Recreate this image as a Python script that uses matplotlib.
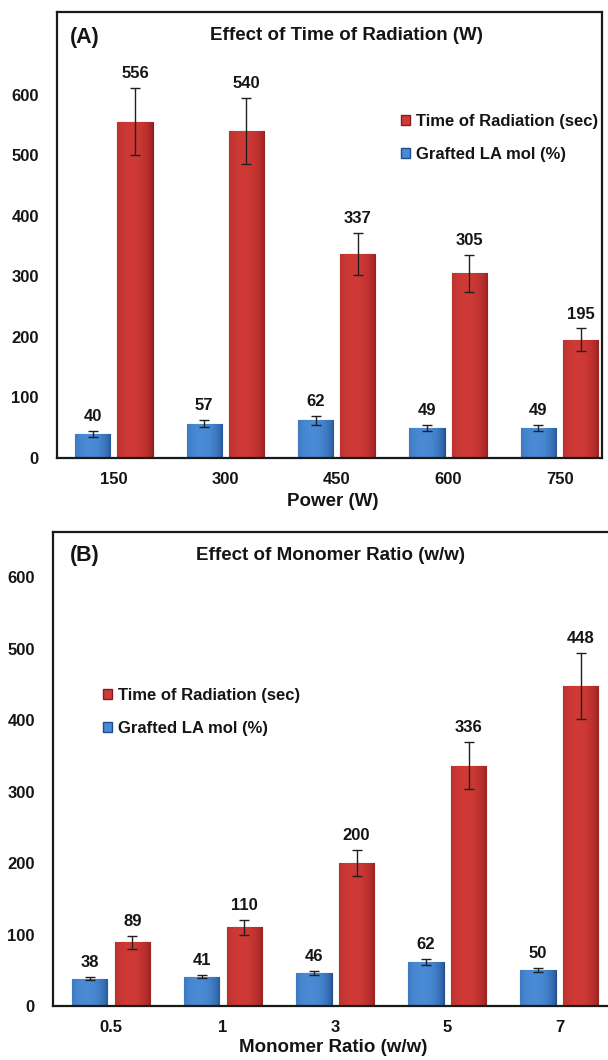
import numpy as np
import matplotlib
matplotlib.use('Agg')
import matplotlib.pyplot as plt
from matplotlib.patches import Patch
from matplotlib.colors import to_rgb

plt.rcParams['font.family'] = ['Liberation Sans', 'DejaVu Sans']
plt.rcParams['font.weight'] = 'bold'

# ---------------- data ----------------
power_labels = ['150', '300', '450', '600', '750']
time_a = [556, 540, 337, 305, 195]
time_a_err = [56, 55, 35, 31, 19]
graft_a = [40, 57, 62, 49, 49]
graft_a_err = [5, 6, 7, 5, 5]

ratio_labels = ['0.5', '1', '3', '5', '7']
time_b = [89, 110, 200, 336, 448]
time_b_err = [9, 10, 18, 33, 46]
graft_b = [38, 41, 46, 62, 50]
graft_b_err = [2, 2, 3, 4, 3]

y_ticks = [0, 100, 200, 300, 400, 500, 600]
series_names = ['Time of Radiation (sec)', 'Grafted LA mol (%)']

RED, RED_D = '#CF3A36', '#8A1B1B'
BLUE, BLUE_D = '#4A8BD6', '#1F4C8C'
TXT = '#151515'

W, H = 608, 1060
fig = plt.figure(figsize=(W / 100, H / 100), dpi=100)


def fx(x):
    return x / W


def fy(y):
    return 1 - y / H


def shade(ax, bars, color, dark):
    c = np.array(to_rgb(color))
    d = np.array(to_rgb(dark))
    t = np.linspace(0, 1, 64)
    prof = np.clip(1 - ((t - 0.4) / 0.62) ** 2, 0, 1) ** 0.6
    row = d[None, :] * (1 - prof[:, None]) + c[None, :] * prof[:, None]
    img = np.tile(row[None, :, :], (2, 1, 1))
    for p in bars:
        x0, y0 = p.get_x(), p.get_y()
        w, h = p.get_width(), p.get_height()
        im = ax.imshow(img, extent=(x0, x0 + w, y0, y0 + h), aspect='auto',
                       origin='lower', zorder=p.get_zorder() + 0.1,
                       interpolation='bilinear')
        im.set_clip_path(p)


def panel(rect, labels, t_vals, t_err, g_vals, g_err, xlim, ylim, right_spine):
    ax = fig.add_axes(rect)
    x = np.arange(len(labels))
    bw, off = 0.315, 0.19
    bg = ax.bar(x - off, g_vals, bw, color=BLUE, edgecolor=BLUE_D, linewidth=0.8, zorder=2)
    bt = ax.bar(x + off, t_vals, bw, color=RED, edgecolor=RED_D, linewidth=0.8, zorder=2)
    shade(ax, bg, BLUE, BLUE_D)
    shade(ax, bt, RED, RED_D)
    ax.errorbar(x - off, g_vals, yerr=g_err, fmt='none', ecolor='#202020',
                elinewidth=1.0, capsize=3.5, capthick=1.0, zorder=4)
    ax.errorbar(x + off, t_vals, yerr=t_err, fmt='none', ecolor='#202020',
                elinewidth=1.0, capsize=3.5, capthick=1.0, zorder=4)
    for xi, v, e in zip(x - off, g_vals, g_err):
        ax.annotate(str(v), (xi, v + e), xytext=(0, 5), textcoords='offset points',
                    ha='center', va='bottom', fontsize=12, color=TXT)
    for xi, v, e in zip(x + off, t_vals, t_err):
        ax.annotate(str(v), (xi, v + e), xytext=(0, 5), textcoords='offset points',
                    ha='center', va='bottom', fontsize=12, color=TXT)
    ax.set_xlim(*xlim)
    ax.set_ylim(*ylim)
    ax.set_xticks(x)
    ax.set_xticklabels(labels)
    ax.set_yticks(y_ticks)
    ax.tick_params(length=0, labelsize=12, labelcolor=TXT)
    ax.tick_params(axis='y', pad=13)
    ax.tick_params(axis='x', pad=10)
    for s in ['left', 'top', 'bottom', 'right']:
        ax.spines[s].set_color('#1a1a1a')
        ax.spines[s].set_linewidth(1.6)
    ax.spines['right'].set_visible(right_spine)
    return ax


# Panel A
axA = panel([fx(57), fy(458), fx(602 - 57), (458 - 12) / H], power_labels,
            time_a, time_a_err, graft_a, graft_a_err,
            (-0.51, 4.38), (0, 737), True)
# Panel B
axB = panel([fx(53), fy(1006), fx(620 - 53), (1006 - 532) / H], ratio_labels,
            time_b, time_b_err, graft_b, graft_b_err,
            (-0.517, 4.54), (0, 663), False)

fig.text(fx(70), fy(38), '(A)', fontsize=15.5, ha='left', va='center', color=TXT)
fig.text(fx(346), fy(35), 'Effect of Time of Radiation (W)', fontsize=13.5,
         ha='center', va='center', color=TXT)
fig.text(fx(70), fy(556), '(B)', fontsize=15.5, ha='left', va='center', color=TXT)
fig.text(fx(331), fy(555), 'Effect of Monomer Ratio (w/w)', fontsize=13.5,
         ha='center', va='center', color=TXT)
fig.text(fx(333), fy(502), 'Power (W)', fontsize=13.5, ha='center', va='center', color=TXT)
fig.text(fx(333), fy(1047), 'Monomer Ratio (w/w)', fontsize=13.5, ha='center', va='center',
         color=TXT)

handles = [Patch(facecolor=RED, edgecolor=RED_D), Patch(facecolor=BLUE, edgecolor=BLUE_D)]
for (lx, ly) in [(401, 114), (103, 688)]:
    fig.legend(handles, series_names, loc='upper left',
               bbox_to_anchor=(fx(lx), fy(ly)), bbox_transform=fig.transFigure,
               frameon=False, fontsize=12, handlelength=0.55, handleheight=0.55,
               handletextpad=0.35, labelspacing=1.05, borderpad=0, borderaxespad=0,
               labelcolor=TXT)

fig.savefig('out.png', dpi=100)
